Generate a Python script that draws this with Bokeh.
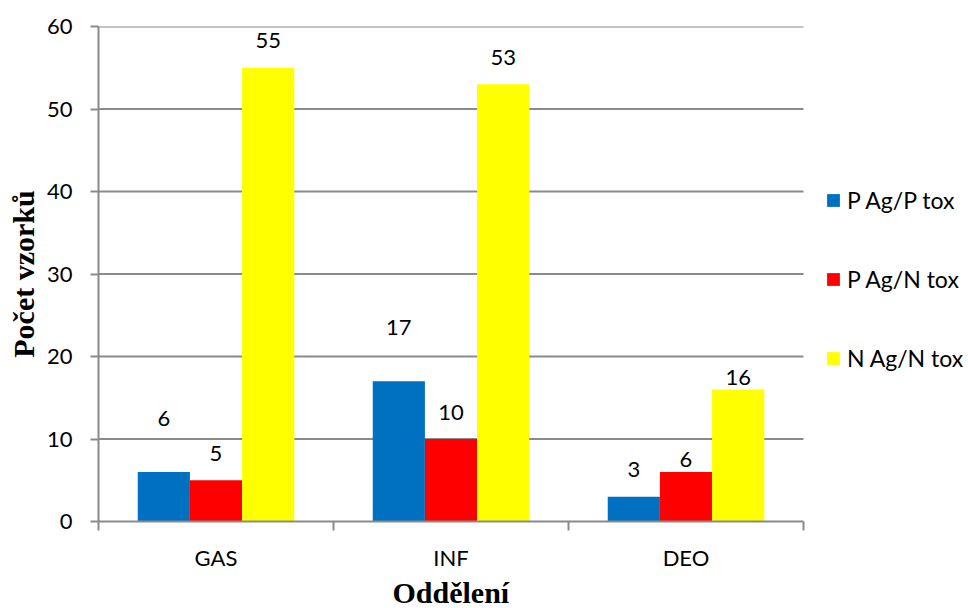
from bokeh.plotting import figure
from bokeh.models import (Range1d, FixedTicker, ColumnDataSource, LabelSet,
                          Legend, LegendItem, Title)
from bokeh.core.properties import value
from bokeh.embed import file_html
from bokeh.resources import INLINE

# ---- data ----
categories = ["GAS", "INF", "DEO"]
series_names = ["P Ag/P tox", "P Ag/N tox", "N Ag/N tox"]
p_ag_p_tox = [6, 17, 3]
p_ag_n_tox = [5, 10, 6]
n_ag_n_tox = [55, 53, 16]
y_ticks = [0, 10, 20, 30, 40, 50, 60]

# ---- style ----
colors = ["#0070C0", "#FF0000", "#FFFF00"]
label_offsets_px = [[54, 54, 27], [27, 27, 13], [27, 27, 12]]
bar_width = 0.222
dodges = [-bar_width, 0.0, bar_width]
grey = "#8a8a8a"
sans = "Lato"
serif = "Liberation Serif"

plot_px = 705          # width of the category area in pixels
frame_px = 870         # frame extends to the right edge to host the legend
n_cat = len(categories)
x_end = n_cat * frame_px / plot_px

p = figure(frame_width=frame_px, frame_height=495, output_backend="svg",
           toolbar_location=None,
           x_range=Range1d(0, x_end), y_range=Range1d(0, 60),
           min_border_left=98, min_border_right=0, min_border_top=26,
           min_border_bottom=87)
p.outline_line_color = None
p.background_fill_color = "white"
p.border_fill_color = "white"

# horizontal grid lines limited to the category area
grid_y = [t for t in y_ticks if t > 0]
p.segment(x0=[0] * len(grid_y), x1=[n_cat] * len(grid_y), y0=grid_y, y1=grid_y,
          line_color=grey, line_width=2, level="underlay")

series = [p_ag_p_tox, p_ag_n_tox, n_ag_n_tox]
items = []
centers = [i + 0.5 for i in range(n_cat)]
for k, vals in enumerate(series):
    xs = [c + dodges[k] for c in centers]
    src = ColumnDataSource(dict(x=xs, top=vals, txt=[str(v) for v in vals],
                                off=label_offsets_px[k]))
    r = p.vbar(x="x", top="top", bottom=0, width=bar_width, source=src,
               fill_color=colors[k], line_color=None)
    items.append(LegendItem(label=series_names[k], renderers=[r]))
    labels = LabelSet(x="x", y="top", text="txt", y_offset="off", source=src,
                      text_align="center", text_baseline="middle",
                      text_font=value(sans), text_font_size="22px",
                      text_color="black")
    p.add_layout(labels)

# x axis
xa = p.xaxis[0]
xa.bounds = (0, n_cat)
xa.ticker = FixedTicker(ticks=centers, minor_ticks=list(range(n_cat + 1)))
xa.major_label_overrides = {c: name for c, name in zip(centers, categories)}
xa.major_tick_line_color = None
xa.major_tick_out = 0
xa.minor_tick_line_color = grey
xa.minor_tick_line_width = 2
xa.minor_tick_out = 9
xa.minor_tick_in = 0
xa.axis_line_color = grey
xa.axis_line_width = 2
xa.major_label_text_font = sans
xa.major_label_text_font_size = "22px"
xa.major_label_text_color = "black"
xa.major_label_standoff = 13
xa.axis_label = None

# x-axis title, centred under the category area
x_title_width_px = 117
xt = Title(text="Oddělení", align="left", text_font=serif,
           text_font_style="bold", text_font_size="30px", text_color="black",
           offset=plot_px / 2 - x_title_width_px / 2, standoff=0)
p.add_layout(xt, "below")

# y axis
ya = p.yaxis[0]
ya.ticker = FixedTicker(ticks=y_ticks, minor_ticks=[])
ya.major_tick_line_color = grey
ya.major_tick_line_width = 2
ya.major_tick_out = 8
ya.major_tick_in = 0
ya.axis_line_color = grey
ya.axis_line_width = 2
ya.major_label_text_font = sans
ya.major_label_text_font_size = "22px"
ya.major_label_text_color = "black"
ya.major_label_standoff = 18
ya.axis_label = "Počet vzorků"
ya.axis_label_text_font = serif
ya.axis_label_text_font_style = "bold"
ya.axis_label_text_font_size = "30px"
ya.axis_label_text_color = "black"
ya.axis_label_standoff = 4

p.xgrid.grid_line_color = None
p.ygrid.grid_line_color = None

legend = Legend(items=items, location=(727, 149), orientation="vertical")
legend.border_line_color = None
legend.background_fill_alpha = 0
legend.margin = 0
legend.padding = 0
legend.glyph_width = 16
legend.glyph_height = 16
legend.label_standoff = 6
legend.spacing = 51
legend.label_text_font = sans
legend.label_text_font_size = "23px"
legend.label_text_color = "black"
p.add_layout(legend, "center")

open("out.html", "w").write(file_html(p, INLINE))
